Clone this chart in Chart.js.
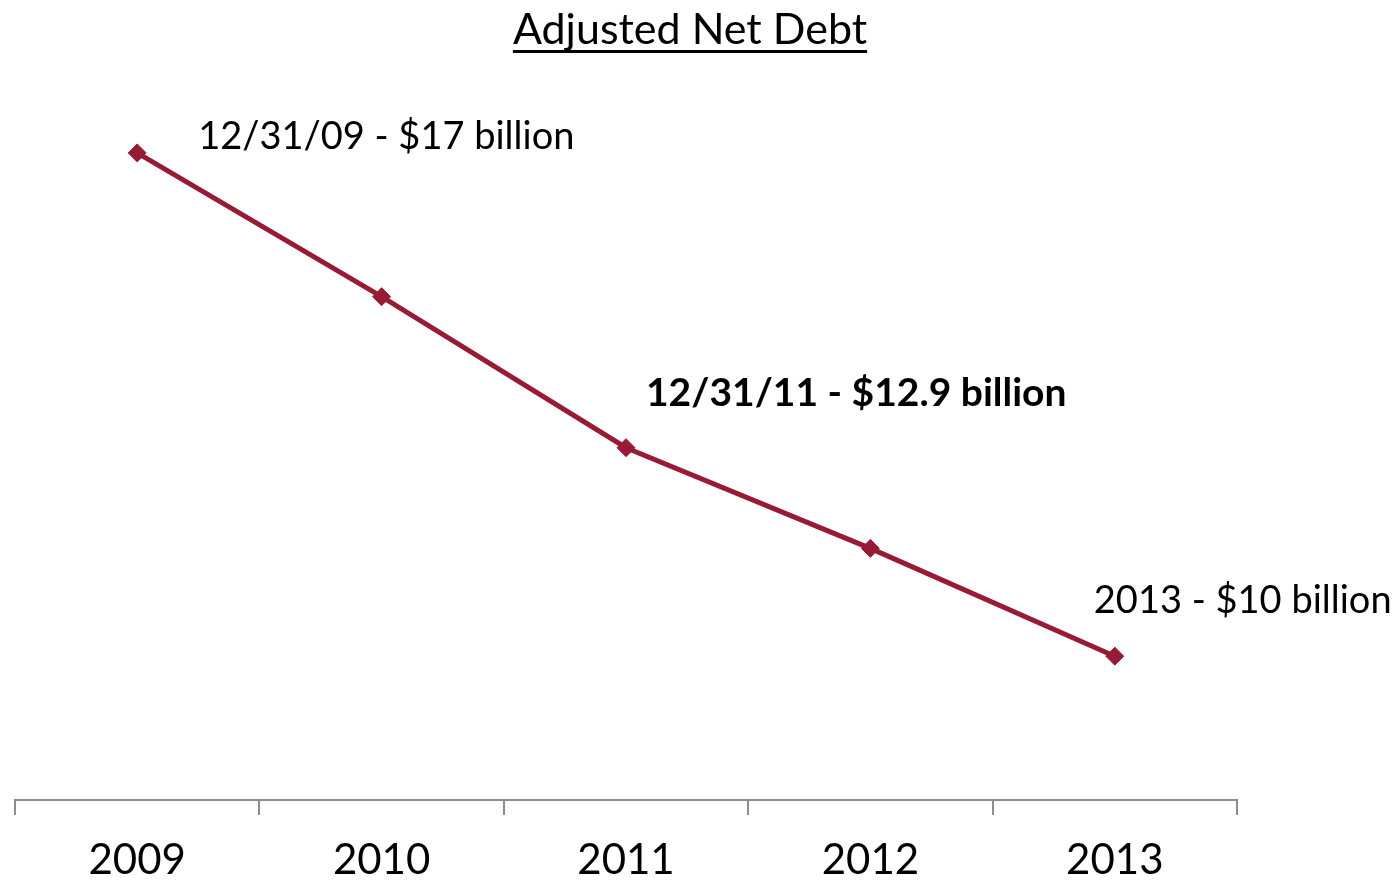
<!DOCTYPE html>
<html>
<head>
<meta charset="utf-8">
<title>Adjusted Net Debt</title>
<script src="https://cdn.jsdelivr.net/npm/chart.js@4.4.1/dist/chart.umd.min.js"></script>
<style>
  html, body { margin: 0; padding: 0; background: #fff; }
  #wrap { width: 1400px; height: 882px; }
</style>
</head>
<body>
<div id="wrap"><canvas id="debtChart" width="1400" height="882"></canvas></div>
<script>
// adjusted net debt, $ billions
var years = ['2009', '2010', '2011', '2012', '2013'];
var netDebt = [17, 15, 12.9, 11.5, 10];
var callouts = ['12/31/09 - $17 billion', '', '12/31/11 - $12.9 billion', '', '2013 - $10 billion'];
var calloutBold = [false, false, true, false, false];

var FONT = 'Lato, "Open Sans", sans-serif';
var lineColor = '#981b36';

// underlined heading at the top of the canvas
var headingPlugin = {
    id: 'heading',
    afterDraw: function (chart) {
        var ctx = chart.ctx;
        var text = 'Adjusted Net Debt';
        ctx.save();
        ctx.font = '43px ' + FONT;
        ctx.fillStyle = '#000';
        ctx.textAlign = 'center';
        ctx.textBaseline = 'alphabetic';
        var cx = 690;
        ctx.fillText(text, cx, 44);
        var w = ctx.measureText(text).width;
        ctx.fillRect(cx - w / 2, 50, w, 3);
        ctx.restore();
    }
};

// text callouts next to selected points
var offsets = [[61, -16], [0, 0], [20, -54], [0, 0], [-21, -55]];
var calloutPlugin = {
    id: 'callouts',
    afterDatasetsDraw: function (chart) {
        var ctx = chart.ctx;
        var meta = chart.getDatasetMeta(0);
        ctx.save();
        ctx.fillStyle = '#000';
        ctx.textAlign = 'left';
        ctx.textBaseline = 'middle';
        meta.data.forEach(function (pt, i) {
            if (!callouts[i]) return;
            ctx.font = (calloutBold[i] ? 'bold 39px ' : '38px ') + FONT;
            ctx.fillText(callouts[i], pt.x + offsets[i][0], pt.y + offsets[i][1]);
        });
        ctx.restore();
    }
};

var ctx = document.getElementById('debtChart');
var debtChart = new Chart(ctx, {
    type: 'line',
    data: {
        labels: years,
        datasets: [
            {
                label: 'Adjusted Net Debt',
                data: netDebt,
                borderColor: lineColor,
                backgroundColor: lineColor,
                borderWidth: 5,
                lineTension: 0,
                fill: false,
                pointStyle: 'rectRot',
                pointRadius: 9,
                pointBorderWidth: 1,
                pointBackgroundColor: lineColor,
                pointBorderColor: lineColor
            }
        ]
    },
    options: {
        responsive: false,
        animation: false,
        layout: { padding: { left: 15, right: 163, top: 81, bottom: 0 } },
        plugins: {
            legend: { display: false },
            title: { display: false },
            tooltip: { enabled: false }
        },
        scales: {
            x: {
                offset: true,
                grid: {
                    offset: true,
                    drawOnChartArea: false,
                    drawTicks: true,
                    tickLength: 15,
                    tickColor: '#8c8c8c',
                    lineWidth: 2
                },
                border: { display: true, color: '#8c8c8c', width: 2 },
                ticks: {
                    color: '#000',
                    padding: 20,
                    font: { family: FONT, size: 42 },
                    maxRotation: 0
                },
                afterFit: function (scale) { scale.height = 82; }
            },
            y: {
                display: false,
                min: 8,
                max: 18
            }
        }
    },
    plugins: [headingPlugin, calloutPlugin]
});
</script>
</body>
</html>
